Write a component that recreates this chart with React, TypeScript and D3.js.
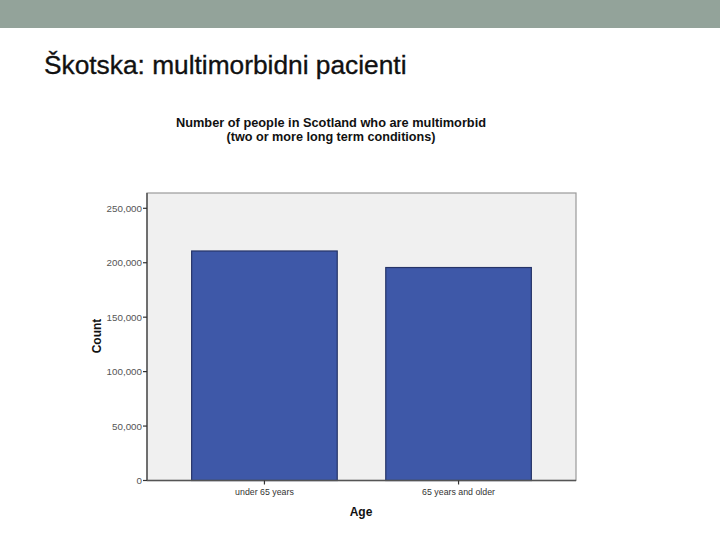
import React from "react";
import * as d3 from "d3";

const categories = ["under 65 years", "65 years and older"];
const counts = [210800, 195600];
const yTicks = [0, 50000, 100000, 150000, 200000, 250000];

export default function App() {
  const W = 720, H = 540;
  const left = 147, right = 576, top = 193, bottom = 480.5;
  const x = d3.scaleBand<string>().domain(categories).range([left, right]).paddingInner(0.25).paddingOuter(0.23);
  const y = d3.scaleLinear().domain([0, 250000]).range([bottom, 208.3]);
  const fmt = d3.format(",");
  return (
    <svg width={W} height={H} style={{ position: "absolute", left: 0, top: 0 }} fontFamily="'Liberation Sans', Arial, sans-serif">
      <rect x={0} y={0} width={W} height={H} fill="#ffffff" />
      <rect x={0} y={0} width={W} height={28} fill="#93a39a" />
      <text x={44} y={74} fontSize={26.3} fill="#111" stroke="#111" strokeWidth={0.35}>Škotska: multimorbidni pacienti</text>
      <text x={331} y={127} fontSize={12.5} fontWeight="bold" textAnchor="middle" fill="#111" textLength={310} lengthAdjust="spacingAndGlyphs">Number of people in Scotland who are multimorbid</text>
      <text x={331} y={141} fontSize={12.5} fontWeight="bold" textAnchor="middle" fill="#111" textLength={209} lengthAdjust="spacingAndGlyphs">(two or more long term conditions)</text>
      <rect x={left} y={top} width={right - left} height={bottom - top} fill="#f0f0f0" stroke="#9a9a9a" strokeWidth={1.2} />
      {categories.map((c, i) => (
        <rect key={c} x={x(c)} y={y(counts[i])} width={x.bandwidth()} height={bottom - y(counts[i])} fill="#3e58a8" stroke="#263468" strokeWidth={1.2} />
      ))}
      <line x1={left} x2={left} y1={top} y2={bottom} stroke="#555" strokeWidth={1.5} />
      <line x1={left} x2={right} y1={bottom} y2={bottom} stroke="#555" strokeWidth={1.5} />
      {yTicks.map((t) => (
        <g key={t}>
          <line x1={left - 4} x2={left} y1={y(t)} y2={y(t)} stroke="#333" strokeWidth={1.2} />
          <text x={left - 5} y={y(t) + 3.5} fontSize={9.8} textAnchor="end" fill="#555">{fmt(t)}</text>
        </g>
      ))}
      {categories.map((c) => {
        const cx = (x(c) as number) + x.bandwidth() / 2;
        return (
          <g key={c}>
            <line x1={cx} x2={cx} y1={bottom} y2={bottom + 4} stroke="#333" strokeWidth={1.2} />
            <text x={cx} y={495} fontSize={8.8} textAnchor="middle" fill="#333">{c}</text>
          </g>
        );
      })}
      <text x={361} y={516} fontSize={12} fontWeight="bold" textAnchor="middle" fill="#111">Age</text>
      <text transform={`translate(101,336) rotate(-90)`} fontSize={12} fontWeight="bold" textAnchor="middle" fill="#111">Count</text>
    </svg>
  );
}
